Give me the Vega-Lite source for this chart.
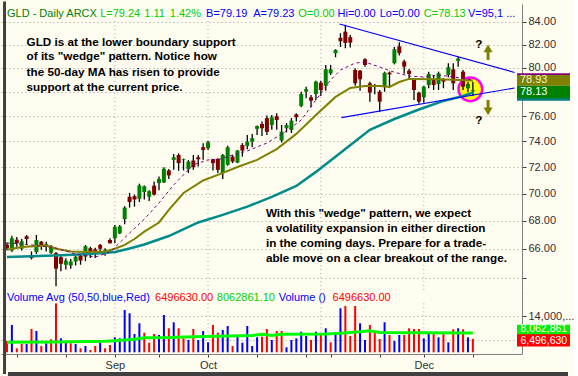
{
"$schema":"https://vega.github.io/schema/vega-lite/v6.json",
"padding":0,
"background":"#FFFCF0",
"bounds":"flush",
"spacing":0,
"config":{"view":{"stroke":null},"axis":{"labelFont":"Liberation Sans","titleFont":"Liberation Sans"},"text":{"font":"Liberation Sans"}},
"datasets":{
"months":[{"i":22,"p0":63.18,"p1":84.18,"v0":2,"v1":18.5},{"i":41,"p0":63.18,"p1":84.18,"v0":2,"v1":18.5},{"i":64,"p0":63.18,"p1":84.18,"v0":2,"v1":18.5},{"i":85,"p0":63.18,"p1":84.18,"v0":2,"v1":18.5}],
"candles":[
{"i":0,"o":66.3,"h":66.45,"l":65.9,"c":66.05,"k":"dn"},
{"i":1,"o":65.89,"h":66.93,"l":65.78,"c":66.75,"k":"up"},
{"i":2,"o":66.65,"h":66.84,"l":66.15,"c":66.4,"k":"dn"},
{"i":3,"o":66.01,"h":66.7,"l":65.89,"c":66.54,"k":"up"},
{"i":4,"o":66.89,"h":66.98,"l":66.35,"c":66.7,"k":"dn"},
{"i":5,"o":65.53,"h":65.82,"l":65.26,"c":65.37,"k":"dn"},
{"i":6,"o":65.78,"h":66.98,"l":65.64,"c":66.63,"k":"up"},
{"i":7,"o":66.51,"h":66.55,"l":65.94,"c":66.24,"k":"dn"},
{"i":8,"o":66.19,"h":66.51,"l":65.82,"c":66.35,"k":"up"},
{"i":9,"o":65.73,"h":66.28,"l":65.64,"c":66.19,"k":"up"},
{"i":10,"o":65.71,"h":65.78,"l":63.43,"c":64.63,"k":"dn"},
{"i":11,"o":65.42,"h":65.53,"l":64.45,"c":64.96,"k":"dn"},
{"i":12,"o":64.9,"h":65.35,"l":64.58,"c":65.19,"k":"up"},
{"i":13,"o":64.85,"h":65.3,"l":64.63,"c":65.12,"k":"up"},
{"i":14,"o":65.12,"h":65.53,"l":64.85,"c":65.46,"k":"up"},
{"i":15,"o":65.53,"h":65.64,"l":64.9,"c":65.19,"k":"dn"},
{"i":16,"o":65.46,"h":66.28,"l":65.15,"c":66.19,"k":"up"},
{"i":17,"o":66.05,"h":66.15,"l":65.37,"c":65.73,"k":"dn"},
{"i":18,"o":65.96,"h":66.08,"l":65.37,"c":65.82,"k":"dn"},
{"i":19,"o":66.28,"h":66.35,"l":65.82,"c":66.01,"k":"dn"},
{"i":20,"o":65.88,"h":66.05,"l":65.53,"c":65.95,"k":"up"},
{"i":21,"o":66.63,"h":66.75,"l":66.38,"c":66.4,"k":"dn"},
{"i":22,"o":66.75,"h":67.69,"l":66.4,"c":67.57,"k":"up"},
{"i":23,"o":67.1,"h":67.69,"l":67.05,"c":67.6,"k":"up"},
{"i":24,"o":68.12,"h":69.07,"l":67.76,"c":68.96,"k":"up"},
{"i":25,"o":69.76,"h":70.05,"l":68.96,"c":69.37,"k":"dn"},
{"i":26,"o":69.8,"h":69.92,"l":69.03,"c":69.56,"k":"dn"},
{"i":27,"o":69.61,"h":70.74,"l":69.37,"c":70.61,"k":"up"},
{"i":28,"o":70.12,"h":70.61,"l":69.56,"c":70.54,"k":"up"},
{"i":29,"o":69.76,"h":70.24,"l":69.44,"c":70.17,"k":"up"},
{"i":30,"o":70.59,"h":70.91,"l":69.85,"c":69.92,"k":"dn"},
{"i":31,"o":70.79,"h":71.28,"l":70.24,"c":71.09,"k":"up"},
{"i":32,"o":70.84,"h":71.99,"l":70.79,"c":71.87,"k":"up"},
{"i":33,"o":71.74,"h":71.84,"l":71.09,"c":71.36,"k":"dn"},
{"i":34,"o":72.55,"h":73.01,"l":71.79,"c":72.75,"k":"up"},
{"i":35,"o":72.93,"h":73.06,"l":71.72,"c":72.3,"k":"dn"},
{"i":36,"o":72.55,"h":72.65,"l":71.74,"c":72.6,"k":"up"},
{"i":37,"o":71.84,"h":72.55,"l":71.54,"c":72.42,"k":"up"},
{"i":38,"o":72.5,"h":72.93,"l":71.79,"c":71.99,"k":"dn"},
{"i":39,"o":72.75,"h":72.93,"l":72.04,"c":72.6,"k":"dn"},
{"i":40,"o":73.53,"h":73.85,"l":72.55,"c":73.32,"k":"dn"},
{"i":41,"o":73.45,"h":74.03,"l":73.32,"c":73.92,"k":"up"},
{"i":42,"o":72.6,"h":72.63,"l":71.74,"c":72.3,"k":"dn"},
{"i":43,"o":72.63,"h":72.68,"l":71.54,"c":71.79,"k":"dn"},
{"i":44,"o":71.54,"h":73.01,"l":71.09,"c":72.93,"k":"up"},
{"i":45,"o":72.17,"h":73.64,"l":72.09,"c":73.53,"k":"up"},
{"i":46,"o":72.8,"h":72.93,"l":72.3,"c":72.42,"k":"dn"},
{"i":47,"o":72.34,"h":73.32,"l":72.3,"c":73.27,"k":"up"},
{"i":48,"o":73.71,"h":73.85,"l":72.8,"c":73.27,"k":"dn"},
{"i":49,"o":73.64,"h":74.5,"l":73.38,"c":73.97,"k":"up"},
{"i":50,"o":73.97,"h":74.57,"l":73.53,"c":74.24,"k":"up"},
{"i":51,"o":74.98,"h":75.25,"l":74.5,"c":75.21,"k":"up"},
{"i":52,"o":75.37,"h":75.56,"l":74.42,"c":75.03,"k":"dn"},
{"i":53,"o":75.84,"h":76.05,"l":74.5,"c":74.74,"k":"dn"},
{"i":54,"o":75.29,"h":76.09,"l":74.9,"c":75.91,"k":"up"},
{"i":55,"o":75.99,"h":76.23,"l":74.9,"c":75.69,"k":"dn"},
{"i":56,"o":74.05,"h":75.29,"l":73.9,"c":74.76,"k":"up"},
{"i":57,"o":75.03,"h":75.45,"l":74.7,"c":75.29,"k":"up"},
{"i":58,"o":74.9,"h":75.85,"l":74.65,"c":75.64,"k":"up"},
{"i":59,"o":76.15,"h":76.23,"l":75.56,"c":75.91,"k":"dn"},
{"i":60,"o":76.83,"h":78.0,"l":76.72,"c":77.81,"k":"up"},
{"i":61,"o":78.0,"h":78.42,"l":77.46,"c":78.21,"k":"up"},
{"i":62,"o":77.54,"h":77.73,"l":76.72,"c":77.26,"k":"dn"},
{"i":63,"o":77.81,"h":78.92,"l":77.32,"c":78.84,"k":"up"},
{"i":64,"o":78.75,"h":78.92,"l":77.65,"c":78.14,"k":"dn"},
{"i":65,"o":78.48,"h":80.25,"l":78.09,"c":79.88,"k":"up"},
{"i":66,"o":79.54,"h":80.25,"l":79.4,"c":79.88,"k":"up"},
{"i":67,"o":81.26,"h":81.6,"l":80.91,"c":81.54,"k":"up"},
{"i":68,"o":82.6,"h":83.0,"l":81.8,"c":82.3,"k":"dn"},
{"i":69,"o":83.14,"h":83.75,"l":81.69,"c":82.15,"k":"dn"},
{"i":70,"o":82.65,"h":82.85,"l":81.75,"c":82.18,"k":"dn"},
{"i":71,"o":79.82,"h":79.96,"l":78.5,"c":78.7,"k":"dn"},
{"i":72,"o":79.76,"h":79.82,"l":78.09,"c":79.04,"k":"dn"},
{"i":73,"o":80.74,"h":80.82,"l":80.1,"c":80.25,"k":"dn"},
{"i":74,"o":78.7,"h":78.84,"l":77.18,"c":77.92,"k":"dn"},
{"i":75,"o":78.42,"h":78.65,"l":77.8,"c":78.56,"k":"up"},
{"i":76,"o":78.0,"h":78.14,"l":76.36,"c":77.18,"k":"dn"},
{"i":77,"o":78.48,"h":79.68,"l":78.0,"c":79.59,"k":"up"},
{"i":78,"o":79.6,"h":79.7,"l":78.3,"c":79.45,"k":"dn"},
{"i":79,"o":80.4,"h":81.8,"l":80.3,"c":81.6,"k":"up"},
{"i":80,"o":81.85,"h":82.2,"l":81.07,"c":81.26,"k":"dn"},
{"i":81,"o":80.55,"h":80.7,"l":79.5,"c":80.1,"k":"dn"},
{"i":82,"o":79.76,"h":79.9,"l":78.98,"c":79.48,"k":"dn"},
{"i":83,"o":78.98,"h":79.12,"l":77.32,"c":78.14,"k":"dn"},
{"i":84,"o":77.92,"h":78.0,"l":77.0,"c":77.18,"k":"dn"},
{"i":85,"o":77.54,"h":78.48,"l":77.1,"c":78.42,"k":"up"},
{"i":86,"o":78.56,"h":79.68,"l":78.29,"c":79.48,"k":"up"},
{"i":87,"o":79.04,"h":79.4,"l":78.14,"c":78.56,"k":"dn"},
{"i":88,"o":78.64,"h":79.68,"l":78.14,"c":79.54,"k":"up"},
{"i":89,"o":78.98,"h":79.15,"l":78.29,"c":78.84,"k":"dn"},
{"i":90,"o":79.4,"h":80.39,"l":79.21,"c":80.05,"k":"up"},
{"i":91,"o":79.88,"h":80.39,"l":78.14,"c":78.7,"k":"dn"},
{"i":92,"o":80.6,"h":80.95,"l":80.1,"c":80.8,"k":"up"},
{"i":93,"o":79.68,"h":79.82,"l":78.14,"c":78.42,"k":"dn"},
{"i":94,"o":78.29,"h":78.84,"l":77.95,"c":78.64,"k":"up"},
{"i":95,"o":78.05,"h":78.84,"l":77.65,"c":78.13,"k":"up"}
],
"vol":[
{"i":0,"v":5.77,"k":"vr"},{"i":1,"v":11.1,"k":"vb"},{"i":2,"v":3.33,"k":"vr"},{"i":3,"v":4.77,"k":"vr"},{"i":4,"v":4.77,"k":"vb"},{"i":5,"v":9.77,"k":"vr"},{"i":6,"v":9.1,"k":"vb"},{"i":7,"v":4.1,"k":"vr"},{"i":8,"v":5.0,"k":"vb"},{"i":9,"v":6.33,"k":"vr"},
{"i":10,"v":18.3,"k":"vr"},{"i":11,"v":6.67,"k":"vb"},{"i":12,"v":5.2,"k":"vb"},{"i":13,"v":5.0,"k":"vr"},{"i":14,"v":4.77,"k":"vb"},{"i":15,"v":3.33,"k":"vr"},{"i":16,"v":4.1,"k":"vb"},{"i":17,"v":2.77,"k":"vr"},{"i":18,"v":4.1,"k":"vr"},{"i":19,"v":5.2,"k":"vb"},
{"i":20,"v":3.33,"k":"vr"},{"i":21,"v":4.43,"k":"vr"},{"i":22,"v":7.0,"k":"vb"},{"i":23,"v":6.67,"k":"vb"},{"i":24,"v":16.1,"k":"vb"},{"i":25,"v":15.0,"k":"vb"},{"i":26,"v":8.1,"k":"vb"},{"i":27,"v":11.67,"k":"vb"},{"i":28,"v":8.53,"k":"vr"},{"i":29,"v":5.2,"k":"vr"},
{"i":30,"v":8.1,"k":"vr"},{"i":31,"v":7.77,"k":"vb"},{"i":32,"v":14.43,"k":"vb"},{"i":33,"v":10.0,"k":"vr"},{"i":34,"v":12.0,"k":"vb"},{"i":35,"v":10.0,"k":"vr"},{"i":36,"v":6.67,"k":"vr"},{"i":37,"v":6.1,"k":"vb"},{"i":38,"v":9.77,"k":"vr"},{"i":39,"v":6.1,"k":"vb"},
{"i":40,"v":9.1,"k":"vb"},{"i":41,"v":5.33,"k":"vb"},{"i":42,"v":11.1,"k":"vr"},{"i":43,"v":8.53,"k":"vr"},{"i":44,"v":9.43,"k":"vb"},{"i":45,"v":10.77,"k":"vb"},{"i":46,"v":4.1,"k":"vr"},{"i":47,"v":7.77,"k":"vb"},{"i":48,"v":5.2,"k":"vb"},{"i":49,"v":10.77,"k":"vb"},
{"i":50,"v":4.1,"k":"vb"},{"i":51,"v":7.0,"k":"vb"},{"i":52,"v":7.2,"k":"vr"},{"i":53,"v":9.77,"k":"vr"},{"i":54,"v":6.1,"k":"vb"},{"i":55,"v":9.1,"k":"vr"},{"i":56,"v":9.1,"k":"vr"},{"i":57,"v":3.67,"k":"vb"},{"i":58,"v":6.1,"k":"vb"},{"i":59,"v":6.67,"k":"vb"},
{"i":60,"v":8.87,"k":"vb"},{"i":61,"v":7.43,"k":"vb"},{"i":62,"v":6.1,"k":"vr"},{"i":63,"v":8.87,"k":"vb"},{"i":64,"v":8.2,"k":"vr"},{"i":65,"v":10.0,"k":"vb"},{"i":66,"v":5.33,"k":"vr"},{"i":67,"v":8.3,"k":"vb"},{"i":68,"v":16.67,"k":"vb"},{"i":69,"v":17.43,"k":"vr"},
{"i":70,"v":7.43,"k":"vr"},{"i":71,"v":17.43,"k":"vr"},{"i":72,"v":11.67,"k":"vb"},{"i":73,"v":6.1,"k":"vb"},{"i":74,"v":11.1,"k":"vr"},{"i":75,"v":8.53,"k":"vr"},{"i":76,"v":6.43,"k":"vr"},{"i":77,"v":12.0,"k":"vb"},{"i":78,"v":7.77,"k":"vr"},{"i":79,"v":5.77,"k":"vb"},
{"i":80,"v":7.77,"k":"vb"},{"i":81,"v":7.77,"k":"vr"},{"i":82,"v":10.0,"k":"vr"},{"i":83,"v":9.77,"k":"vr"},{"i":84,"v":9.77,"k":"vr"},{"i":85,"v":6.67,"k":"vb"},{"i":86,"v":8.1,"k":"vb"},{"i":87,"v":8.3,"k":"vr"},{"i":88,"v":7.0,"k":"vb"},{"i":89,"v":8.63,"k":"vr"},
{"i":90,"v":5.33,"k":"vb"},{"i":91,"v":9.67,"k":"vr"},{"i":92,"v":10.0,"k":"vb"},{"i":93,"v":9.67,"k":"vr"},{"i":94,"v":7.0,"k":"vb"},{"i":95,"v":6.5,"k":"vr"}
],
"m50":[{"i":0,"p":65.43},{"i":5,"p":65.49},{"i":11,"p":65.56},{"i":17,"p":65.64},{"i":22,"p":65.78},{"i":25,"p":66.03},{"i":28,"p":66.31},{"i":33,"p":66.91},{"i":39,"p":67.88},{"i":44,"p":68.43},{"i":49,"p":69.03},{"i":54,"p":69.75},{"i":59,"p":70.57},{"i":63,"p":71.63},{"i":69,"p":73.39},{"i":74,"p":74.9},{"i":79,"p":75.77},{"i":84,"p":76.54},{"i":89,"p":77.24},{"i":93,"p":77.65},{"i":95,"p":77.92}],
"m20":[{"i":0,"p":65.94},{"i":3,"p":66.13},{"i":8,"p":66.24},{"i":10,"p":66.01},{"i":13,"p":65.82},{"i":16,"p":65.78},{"i":20,"p":65.82},{"i":22,"p":66.01},{"i":24,"p":66.28},{"i":26,"p":66.7},{"i":28,"p":67.22},{"i":31,"p":67.88},{"i":33,"p":68.79},{"i":36,"p":70.04},{"i":40,"p":70.98},{"i":43,"p":71.4},{"i":47,"p":72.0},{"i":51,"p":72.55},{"i":55,"p":73.39},{"i":59,"p":74.58},{"i":63,"p":76.09},{"i":67,"p":77.57},{"i":70,"p":78.31},{"i":73,"p":78.48},{"i":76,"p":78.48},{"i":78,"p":78.4},{"i":80,"p":78.81},{"i":82,"p":79.07},{"i":88,"p":79.03},{"i":95,"p":78.94}],
"m10":[{"i":0,"p":66.42},{"i":5,"p":66.28},{"i":10,"p":66.07},{"i":14,"p":65.64},{"i":18,"p":65.43},{"i":21,"p":65.78},{"i":23,"p":66.44},{"i":25,"p":67.12},{"i":28,"p":68.12},{"i":31,"p":69.3},{"i":34,"p":70.65},{"i":38,"p":72.17},{"i":41,"p":72.55},{"i":43,"p":72.55},{"i":46,"p":72.93},{"i":49,"p":73.24},{"i":53,"p":73.86},{"i":57,"p":74.81},{"i":60,"p":75.69},{"i":63,"p":77.32},{"i":66,"p":78.98},{"i":68,"p":79.82},{"i":71,"p":80.41},{"i":73,"p":80.5},{"i":76,"p":80.07},{"i":79,"p":79.63},{"i":82,"p":79.31},{"i":85,"p":79.23},{"i":88,"p":79.4},{"i":91,"p":79.23},{"i":95,"p":78.98}],
"vavg":[{"i":0,"v":5.33},{"i":10,"v":5.45},{"i":20,"v":5.67},{"i":22,"v":5.87},{"i":26,"v":6.33},{"i":28,"v":6.87},{"i":33,"v":6.9},{"i":38,"v":7.2},{"i":45,"v":7.43},{"i":50,"v":7.6},{"i":52,"v":8.0},{"i":54,"v":7.6},{"i":56,"v":8.0},{"i":65,"v":8.1},{"i":68,"v":8.33},{"i":72,"v":8.87},{"i":74,"v":9.2},{"i":76,"v":8.6},{"i":85,"v":8.5},{"i":95,"v":8.4}],
"hdr":[{"t":"GLD - Daily","i":0,"k":"dg"},{"t":"ARCX","i":12.1,"k":"dg"},{"t":"L=79.24","i":19,"k":"lime"},{"t":"1.11","i":28,"k":"lime"},{"t":"1.42%","i":33.2,"k":"lime"},{"t":"B=79.19","i":40.6,"k":"blue"},{"t":"A=79.23","i":50.2,"k":"blue"},{"t":"O=0.00","i":59.4,"k":"lime"},{"t":"Hi=0.00","i":67.4,"k":"blue"},{"t":"Lo=0.00","i":76,"k":"blue"},{"t":"C=78.13","i":85,"k":"lime"},{"t":"V=95,1 ...","i":94,"k":"blue"}],
"notes":[{"t":"GLD is at the lower boundary support","i":4,"p":82.27},{"t":"of its \"wedge\" pattern.  Notice how","i":4,"p":81.02},{"t":"the 50-day MA has risen to provide","i":4,"p":79.68},{"t":"support at the current price.","i":4,"p":78.42},{"t":"With this \"wedge\" pattern, we expect","i":52.8,"p":68.59},{"t":"a volatility expansion in either direction","i":52.8,"p":67.5},{"t":"in the coming days.  Prepare for a trade-","i":52.8,"p":66.45},{"t":"able move on a clear breakout of the range.","i":52.8,"p":65.34},{"t":"?","i":95.5,"p":82.06},{"t":"?","i":95.5,"p":75.69}],
"pbox":[{"i1":104,"i2":114.8,"p1":79.54,"p2":78.64,"k":"bp"},{"i1":104,"i2":114.8,"p1":79.4,"p2":78.5,"k":"bo"},{"i1":104,"i2":114.8,"p1":78.37,"p2":77.26,"k":"bt"},{"i1":104,"i2":114.8,"p1":78.5,"p2":77.46,"k":"bg"}],
"pboxt":[{"t":"78.93","i":104.6,"p":78.97,"k":"lt"},{"t":"78.13","i":104.6,"p":77.96,"k":"wt"}],
"vtxt":[{"t":"Volume Avg (50,50,blue,Red)","i":0,"k":"blue"},{"t":"6496630.00","i":30.2,"k":"red"},{"t":"8062861.10","i":42.8,"k":"lime"},{"t":"Volume ()","i":55.4,"k":"blue"},{"t":"6496630.00","i":66.4,"k":"red"}],
"vbox":[{"i1":104,"i2":114.8,"v1":11.2,"v2":7.43,"k":"vg"},{"i1":104,"i2":114.8,"v1":8.0,"v2":3.93,"k":"vr"}],
"vboxt":[{"t":"8,062,861","i":104.7,"v":9.6,"k":"wt"},{"t":"6,496,630","i":104.7,"v":5.75,"k":"wt"}]
},
"vconcat":[
{
"width":521,"height":286,
"layer":[
{"data":{"name":"months"},"mark":{"type":"rule","color":"#A8A8A8","strokeDash":[1,3],"strokeWidth":1},
 "encoding":{"x":{"field":"i","type":"quantitative","scale":{"domain":[-0.2,104],"nice":false,"zero":false},"axis":null},
 "y":{"field":"p0","type":"quantitative","scale":{"type":"log","domain":[63.18,85.62],"nice":false},"axis":{"orient":"right","values":[64,66,68,70,72,74,76,78,80,82,84],"format":".2f","labelExpr":"(datum.value==64||datum.value==78)?'':datum.label","title":null,"grid":true,"gridDash":[1,3],"gridColor":"#9A9A9A","domainColor":"#808080","tickColor":"#404040","tickSize":4,"labelColor":"#303030","labelFontSize":11,"labelPadding":2,"labelOverlap":false}},
 "y2":{"field":"p1"}}},
{"data":{"values":[{"i":94.5,"p":78.2}]},"mark":{"type":"point","shape":"circle","filled":true,"fill":"#FFFF00","stroke":"#FF00FF","strokeWidth":2.5,"size":560,"opacity":1,"fillOpacity":1,"strokeOpacity":1},
 "encoding":{"x":{"field":"i","type":"quantitative","axis":null},"y":{"field":"p","type":"quantitative"}}},
{"data":{"name":"candles"},"mark":{"type":"rule","color":"#000000","strokeWidth":1.3},
 "encoding":{"x":{"field":"i","type":"quantitative","axis":null},"y":{"field":"l","type":"quantitative"},"y2":{"field":"h"}}},
{"data":{"name":"candles"},"mark":{"type":"bar","size":4},
 "encoding":{"x":{"field":"i","type":"quantitative","axis":null},"y":{"field":"o","type":"quantitative"},"y2":{"field":"c"},
 "color":{"field":"k","type":"nominal","legend":null,"scale":{"domain":["up","dn","dg","lime","blue","red","bp","bo","bt","bg","wt","lt","vb","vr","vg"],"range":["#008000","#800000","#008000","#00D000","#0000FF","#FF0000","#800080","#808000","#008080","#008000","#FFFFFF","#F4F4D0","#0000FF","#FF0000","#00EE00"]}}}},
{"data":{"name":"m50"},"mark":{"type":"line","color":"#008B8B","strokeWidth":2.5},
 "encoding":{"x":{"field":"i","type":"quantitative","axis":null},"y":{"field":"p","type":"quantitative"}}},
{"data":{"name":"m20"},"mark":{"type":"line","color":"#808000","strokeWidth":2},
 "encoding":{"x":{"field":"i","type":"quantitative","axis":null},"y":{"field":"p","type":"quantitative"}}},
{"data":{"name":"m10"},"mark":{"type":"line","color":"#800080","strokeWidth":1,"strokeDash":[3,3]},
 "encoding":{"x":{"field":"i","type":"quantitative","axis":null},"y":{"field":"p","type":"quantitative"}}},
{"data":{"values":[{"i1":67.8,"p1":83.82,"i2":103.5,"p2":79.61},{"i1":68.2,"p1":75.88,"i2":103.5,"p2":78.31}]},"mark":{"type":"rule","color":"#0000FF","strokeWidth":1.2},
 "encoding":{"x":{"field":"i1","type":"quantitative","axis":null},"x2":{"field":"i2"},"y":{"field":"p1","type":"quantitative"},"y2":{"field":"p2"}}},
{"data":{"values":[{"i":98.1,"p1":80.68,"p2":81.46},{"i":98.1,"p1":77.32,"p2":76.65}]},"mark":{"type":"rule","color":"#808000","strokeWidth":3},
 "encoding":{"x":{"field":"i","type":"quantitative","axis":null},"y":{"field":"p1","type":"quantitative"},"y2":{"field":"p2"}}},
{"data":{"values":[{"i":98.1,"p":81.67,"s":"u"},{"i":98.1,"p":76.38,"s":"d"}]},"mark":{"type":"point","filled":true,"color":"#808000","size":81,"opacity":1},
 "encoding":{"x":{"field":"i","type":"quantitative","axis":null},"y":{"field":"p","type":"quantitative"},"shape":{"field":"s","type":"nominal","legend":null,"scale":{"domain":["u","d"],"range":["triangle-up","triangle-down"]}}}},
{"data":{"name":"notes"},"mark":{"type":"text","align":"left","baseline":"middle","fontWeight":"bold","fontSize":11.7,"color":"#000000"},
 "encoding":{"x":{"field":"i","type":"quantitative","axis":null},"y":{"field":"p","type":"quantitative"},"text":{"field":"t"}}},
{"data":{"name":"hdr"},"mark":{"type":"text","align":"left","baseline":"middle","fontSize":11},
 "encoding":{"x":{"field":"i","type":"quantitative","axis":null},"y":{"datum":84.71,"type":"quantitative"},"text":{"field":"t"},"color":{"field":"k","type":"nominal","legend":null}}},
{"data":{"name":"pbox"},"mark":{"type":"rect"},
 "encoding":{"x":{"field":"i1","type":"quantitative","axis":null},"x2":{"field":"i2"},"y":{"field":"p1","type":"quantitative"},"y2":{"field":"p2"},"color":{"field":"k","type":"nominal","legend":null}}},
{"data":{"name":"pboxt"},"mark":{"type":"text","align":"left","baseline":"middle","fontSize":11},
 "encoding":{"x":{"field":"i","type":"quantitative","axis":null},"y":{"field":"p","type":"quantitative"},"text":{"field":"t"},"color":{"field":"k","type":"nominal","legend":null}}}
]
},
{
"width":521,"height":64,
"layer":[
{"data":{"name":"months"},"mark":{"type":"rule","color":"#A8A8A8","strokeDash":[1,3],"strokeWidth":1},
 "encoding":{"x":{"field":"i","type":"quantitative","scale":{"domain":[-0.2,104],"nice":false,"zero":false},
   "axis":{"values":[2,7,12,17,22,26,31,36,41,46,51,56,61,64,66,71,76,80,85,90,95],"labelExpr":"datum.value==22?'Sep':datum.value==41?'Oct':datum.value==64?'Nov':datum.value==85?'Dec':''","title":null,"grid":false,"tickSize":3,"tickColor":"#404040","domainColor":"#808080","labelColor":"#303030","labelFontSize":11,"labelPadding":2,"labelFlush":false,"labelOverlap":false}},
 "y":{"field":"v0","type":"quantitative","scale":{"domain":[1.433,22.767],"nice":false,"zero":false},
   "axis":{"orient":"right","values":[6,10,14],"labelExpr":"datum.value==14?'14,000,...':''","title":null,"grid":true,"gridDash":[1,3],"gridColor":"#9A9A9A","domainColor":"#808080","tickColor":"#404040","tickSize":4,"labelColor":"#303030","labelFontSize":11,"labelPadding":2,"labelOverlap":false}},
 "y2":{"field":"v1"}}},
{"data":{"name":"vol"},"mark":{"type":"bar","size":2},
 "encoding":{"x":{"field":"i","type":"quantitative"},"y":{"field":"v","type":"quantitative"},"y2":{"datum":2},
 "color":{"field":"k","type":"nominal","legend":null,"scale":{"domain":["up","dn","dg","lime","blue","red","bp","bo","bt","bg","wt","lt","vb","vr","vg"],"range":["#008000","#800000","#008000","#00D000","#0000FF","#FF0000","#800080","#808000","#008080","#008000","#FFFFFF","#F4F4D0","#0000FF","#FF0000","#00EE00"]}}}},
{"data":{"name":"vavg"},"mark":{"type":"line","color":"#00FF00","strokeWidth":3},
 "encoding":{"x":{"field":"i","type":"quantitative"},"y":{"field":"v","type":"quantitative"}}},
{"data":{"name":"vtxt"},"mark":{"type":"text","align":"left","baseline":"middle","fontSize":11},
 "encoding":{"x":{"field":"i","type":"quantitative"},"y":{"datum":20.1,"type":"quantitative"},"text":{"field":"t"},"color":{"field":"k","type":"nominal","legend":null}}},
{"data":{"name":"vbox"},"mark":{"type":"rect"},
 "encoding":{"x":{"field":"i1","type":"quantitative"},"x2":{"field":"i2"},"y":{"field":"v1","type":"quantitative"},"y2":{"field":"v2"},"color":{"field":"k","type":"nominal","legend":null}}},
{"data":{"name":"vboxt"},"mark":{"type":"text","align":"left","baseline":"middle","fontSize":10.5},
 "encoding":{"x":{"field":"i","type":"quantitative"},"y":{"field":"v","type":"quantitative"},"text":{"field":"t"},"color":{"field":"k","type":"nominal","legend":null}}},
{"data":{"values":[{}]},"mark":{"type":"rule","color":"#404040","strokeWidth":3},
 "encoding":{"x":{"datum":-0.5,"type":"quantitative"},"y":{"datum":-5.233,"type":"quantitative"},"y2":{"datum":118.93}}},
{"data":{"values":[{}]},"mark":{"type":"rule","color":"#404040","strokeWidth":4},
 "encoding":{"x":{"datum":0.2,"type":"quantitative"},"x2":{"datum":114.4},"y":{"datum":-5.233,"type":"quantitative"}}}
]
}
]
}
